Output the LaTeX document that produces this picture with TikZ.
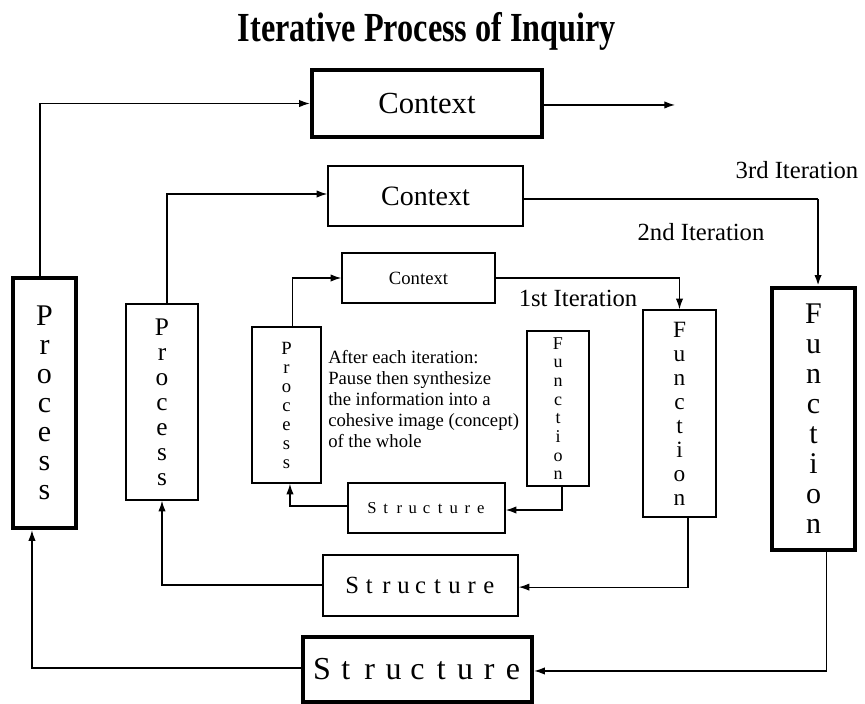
\documentclass[tikz,border=0pt]{standalone}
\usepackage{fontspec}
\setmainfont{Liberation Serif}
\usetikzlibrary{arrows.meta}
\makeatletter
% each letter centred in a box of fixed width (letter-spaced words)
\newcommand\spreadout[2]{\@tfor\ltr:=#2\do{\makebox[#1]{\ltr}}}
\makeatother
\newcommand\fsz[2]{\fontsize{#1}{#2}\selectfont}

\begin{document}
\begin{tikzpicture}[x=0.75pt,y=-0.75pt,
  box/.style={draw, line width=1.1pt, inner sep=0pt, align=center},
  heavy/.style={draw, line width=3.3pt, inner sep=0pt, align=center},
  size/.style 2 args={minimum width={0.75*#1}, minimum height={0.75*#2}},
  arr/.style={-{Latex[length=8pt,width=5.5pt]}, line width=0.9pt},
  lbl/.style={inner sep=0pt, font=\fsz{18.5}{20}}]
\useasboundingbox (0,0) rectangle (865,704);

% title
\node[inner sep=0pt, xscale=0.78, font=\bfseries\fsz{31}{33}] (title) at (427,31) {Iterative Process of Inquiry};

% context boxes
\node[heavy, size={230}{67}, font=\fsz{23}{25}] (ctxA) at (427,103.5) {Context};
\node[box, size={195}{60}, font=\fsz{21}{23}] (ctxB) at (425.5,196) {Context};
\node[box, size={153}{50}, font=\fsz{14}{16}] (ctxC) at (418.5,278) {Context};

% process boxes
\node[heavy, size={63}{250}, font=\fsz{22.5}{21.75}] (procA) at (44.5,403) {P\\r\\o\\c\\e\\s\\s};
\node[box, size={72}{196}, font=\fsz{19}{18.75}] (procB) at (162,402) {P\\r\\o\\c\\e\\s\\s};
\node[box, size={69}{156}, font=\fsz{14}{14.25}] (procC) at (286.5,405) {P\\r\\o\\c\\e\\s\\s};

% function boxes
\node[box, size={62}{155}, font=\fsz{13.5}{14}] (fnC) at (558,408.5) {F\\u\\n\\c\\t\\i\\o\\n};
\node[box, size={73}{207}, font=\fsz{17.5}{18}] (fnB) at (679.5,413.5) {F\\u\\n\\c\\t\\i\\o\\n};
\node[heavy, size={83}{262}, font=\fsz{22.5}{22.5}] (fnA) at (813.5,419) {F\\u\\n\\c\\t\\i\\o\\n};

% structure boxes
\node[box, size={157}{50}, font=\fsz{12.5}{14}] (strC) at (426.5,508) {\spreadout{10.2pt}{Structure}};
\node[box, size={195}{61}, font=\fsz{18.5}{20}] (strB) at (420.5,585.5) {\spreadout{12.8pt}{Structure}};
\node[heavy, size={229}{65}, font=\fsz{24}{26}] (strA) at (417.5,669.5) {\spreadout{17.9pt}{Structure}};

% iteration labels
\node[lbl] (it3) at (797,170) {3rd Iteration};
\node[lbl] (it2) at (701,232) {2nd Iteration};
\node[lbl] (it1) at (578,298) {1st Iteration};

% note in the middle
\node[anchor=north west, inner sep=0pt, align=left, font=\fsz{14}{15.75}] (note) at (328,350)
  {After each iteration:\\Pause then synthesize\\the information into a\\cohesive image (concept)\\of the whole};

% 1st iteration loop
\draw[arr] ([xshift=4.5pt]procC.north) |- (ctxC.west);
\draw[arr] (ctxC.east) -| (fnB.north);
\draw[arr] ([xshift=3pt]fnC.south) |- ([yshift=-1.5pt]strC.east);
\draw[arr] ([yshift=1.5pt]strC.west) -| ([xshift=2.6pt]procC.south);

% 2nd iteration loop
\draw[arr] ([xshift=3.7pt]procB.north) |- ([yshift=1.5pt]ctxB.west);
\coordinate (turnB) at (ctxB.east -| fnA.north);
\draw[line width=0.9pt] ([yshift=-2.2pt]ctxB.east) -- ([xshift=3.4pt,yshift=-2.2pt]turnB);
\draw[arr, line width=1.8pt] ([xshift=3.4pt,yshift=-2.2pt]turnB) -- ([xshift=3.4pt]fnA.north);
\draw[arr] ([xshift=6.4pt]fnB.south) |- ([yshift=-1.2pt]strB.east);
\draw[arr] ([yshift=0.4pt]strB.west) -| (procB.south);

% 3rd iteration loop
\draw[arr] ([xshift=-3.4pt]procA.north) |- (ctxA.west);
\coordinate (ctxAout) at (675,105);
\draw[arr] ([yshift=-1.1pt]ctxA.east) -- ([yshift=-1.1pt]ctxA.east -| ctxAout);
\draw[arr] ([xshift=10pt]fnA.south) |- ([yshift=-1.1pt]strA.east);
\draw[arr] ([yshift=1.1pt]strA.west) -| ([xshift=-9.4pt]procA.south);
\end{tikzpicture}
\end{document}
